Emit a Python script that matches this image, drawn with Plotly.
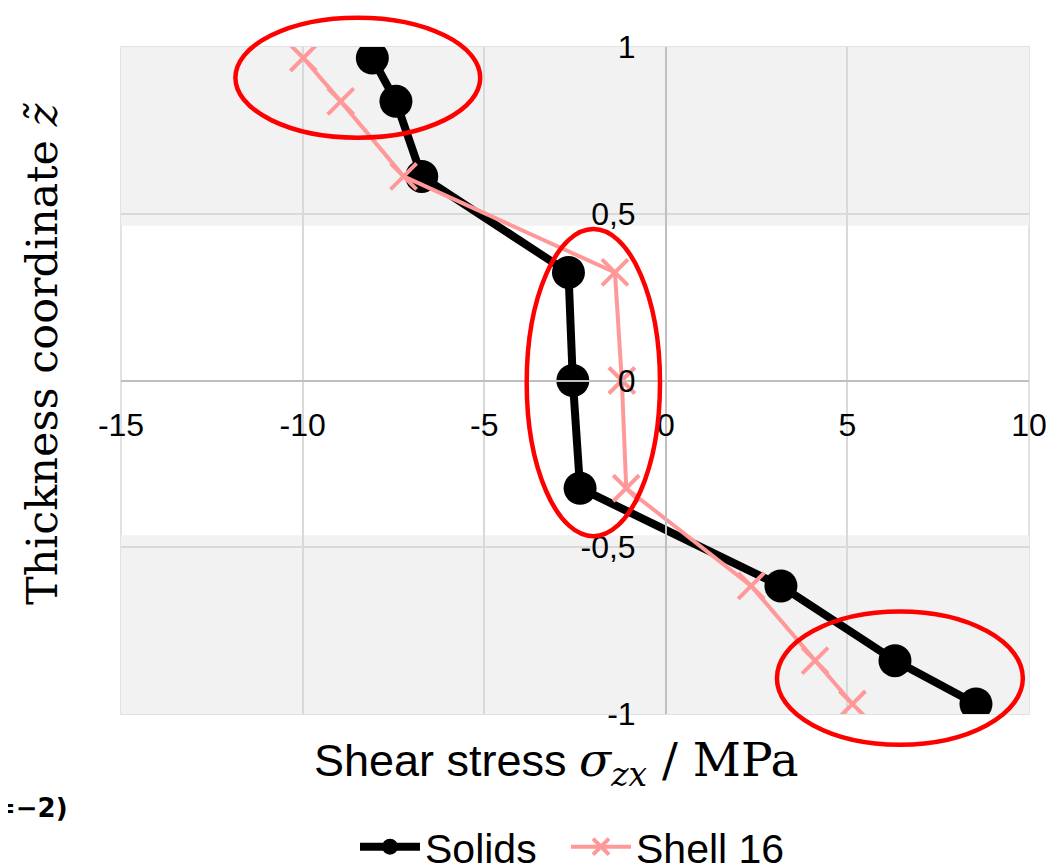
import plotly.graph_objects as go

# ---------------- data ----------------
solids_x = [-8.08, -7.43, -6.72, -2.68, -2.56, -2.36, 3.17, 6.31, 8.54]
solids_z = [0.967, 0.837, 0.612, 0.324, 0.0, -0.323, -0.616, -0.840, -0.970]

shell_x = [-9.98, -8.95, -7.22, -1.40, -1.21, -1.09, 2.35, 4.11, 5.14]
shell_z = [0.967, 0.837, 0.612, 0.324, 0.0, -0.323, -0.616, -0.840, -0.970]

x_ticks = [-15, -10, -5, 0, 5, 10]
x_ticklabels = ["-15", "-10", "-5", "0", "5", "10"]
y_ticks = [-1, -0.5, 0, 0.5, 1]
y_ticklabels = ["-1", "-0,5", "0", "0,5", "1"]

x_range = [-15, 10]
y_range = [-1, 1]

# shaded layer bands (z ranges)
bands = [(0.464, 1.0), (-1.0, -0.464)]

# highlight ellipses (data coordinates: x0, x1, z0, z1)
ellipses = [(-11.85, -5.11, 0.728, 1.088),
            (-3.83, -0.16, -0.467, 0.454),
            (3.06, 9.83, -1.092, -0.693)]

# ---------------- figure ----------------
OFF = 8  # page body margin
W, H = 1064 - OFF, 868 - OFF
ML, MT = 121 - OFF, 47 - OFF
MR = W - (1029 - OFF)
MB = H - (714 - OFF)
PW, PH = W - ML - MR, H - MT - MB


def to_paper_x(v):
    return (v - x_range[0]) / (x_range[1] - x_range[0])


def to_paper_y(v):
    return (v - y_range[0]) / (y_range[1] - y_range[0])


def px_x(sx):  # screen pixel -> paper x
    return (sx - OFF - ML) / PW


def px_y(sy):  # screen pixel -> paper y
    return ((H - MB) - (sy - OFF)) / PH


fig = go.Figure()

fig.add_trace(go.Scatter(
    x=solids_x, y=solids_z, name="Solids", mode="lines+markers",
    line=dict(color="black", width=8),
    marker=dict(symbol="circle", size=33, color="black"),
    legend="legend",
))
fig.add_trace(go.Scatter(
    x=shell_x, y=shell_z, name="Shell 16", mode="lines+markers",
    line=dict(color="#ff9999", width=4),
    marker=dict(symbol="x-thin", size=26, color="#ff9999",
                line=dict(color="#ff9999", width=4)),
    legend="legend2",
))

shapes = []
for z0, z1 in bands:
    shapes.append(dict(type="rect", xref="x", yref="y", x0=x_range[0], x1=x_range[1],
                       y0=z0, y1=z1, fillcolor="#f2f2f2", line=dict(width=0), layer="below"))
shapes.append(dict(type="rect", xref="paper", yref="paper", x0=0, x1=1, y0=0, y1=1,
                   line=dict(color="#d9d9d9", width=1.5), layer="below"))
for ex0, ex1, ez0, ez1 in ellipses:
    shapes.append(dict(type="circle", xref="paper", yref="paper",
                       x0=to_paper_x(ex0), x1=to_paper_x(ex1),
                       y0=to_paper_y(ez0), y1=to_paper_y(ez1),
                       line=dict(color="#ff0000", width=4.5), layer="above"))

legend_style = dict(orientation="h", yanchor="middle", y=px_y(847), xanchor="left",
                    font=dict(size=41, family="Liberation Sans, Arial, sans-serif"),
                    itemwidth=60, bgcolor="rgba(0,0,0,0)")

fig.update_layout(
    width=W, height=H,
    margin=dict(l=ML, r=MR, t=MT, b=MB, autoexpand=False),
    paper_bgcolor="white", plot_bgcolor="white",
    font=dict(family="Liberation Sans, Arial, sans-serif", color="black"),
    shapes=shapes,
    showlegend=True,
    legend=dict(legend_style, x=px_x(355)),
    legend2=dict(legend_style, x=px_x(566)),
    xaxis=dict(range=x_range, tickvals=x_ticks, ticktext=x_ticklabels,
               anchor="free", position=to_paper_y(0),
               showgrid=True, gridcolor="#d9d9d9", gridwidth=1.5,
               showline=True, linecolor="#bfbfbf", linewidth=1.5,
               zeroline=False, ticks="", ticklabelstandoff=16,
               tickfont=dict(size=32)),
    yaxis=dict(range=y_range, tickvals=y_ticks, ticktext=y_ticklabels,
               anchor="free", position=to_paper_x(0),
               showgrid=True, gridcolor="#d9d9d9", gridwidth=1.5,
               showline=True, linecolor="#bfbfbf", linewidth=1.5,
               zeroline=False, ticks="", ticklabelstandoff=23,
               tickfont=dict(size=32)),
    annotations=[
        dict(xref="paper", yref="paper", x=px_x(556), y=px_y(763),
             xanchor="center", yanchor="middle", showarrow=False,
             text=("Shear stress <span style='font-family:DejaVu Serif;font-size:47px'><i>σ</i>"
                   "<sub><i>zx</i></sub> / MPa</span>"),
             font=dict(size=45, family="Liberation Sans, Arial, sans-serif")),
        dict(xref="paper", yref="paper", x=px_x(42), y=px_y(354),
             xanchor="center", yanchor="middle", showarrow=False, textangle=-90,
             text="Thickness coordinate <i>z\u0303</i>",
             font=dict(size=43, family="DejaVu Serif, Liberation Serif, serif")),
        dict(xref="paper", yref="paper", x=px_x(-8), y=px_y(808),
             xanchor="left", yanchor="middle", showarrow=False,
             text="<b>=−2)</b>",
             font=dict(size=26, family="DejaVu Sans, sans-serif")),
    ],
)

fig.write_html("out.html")
